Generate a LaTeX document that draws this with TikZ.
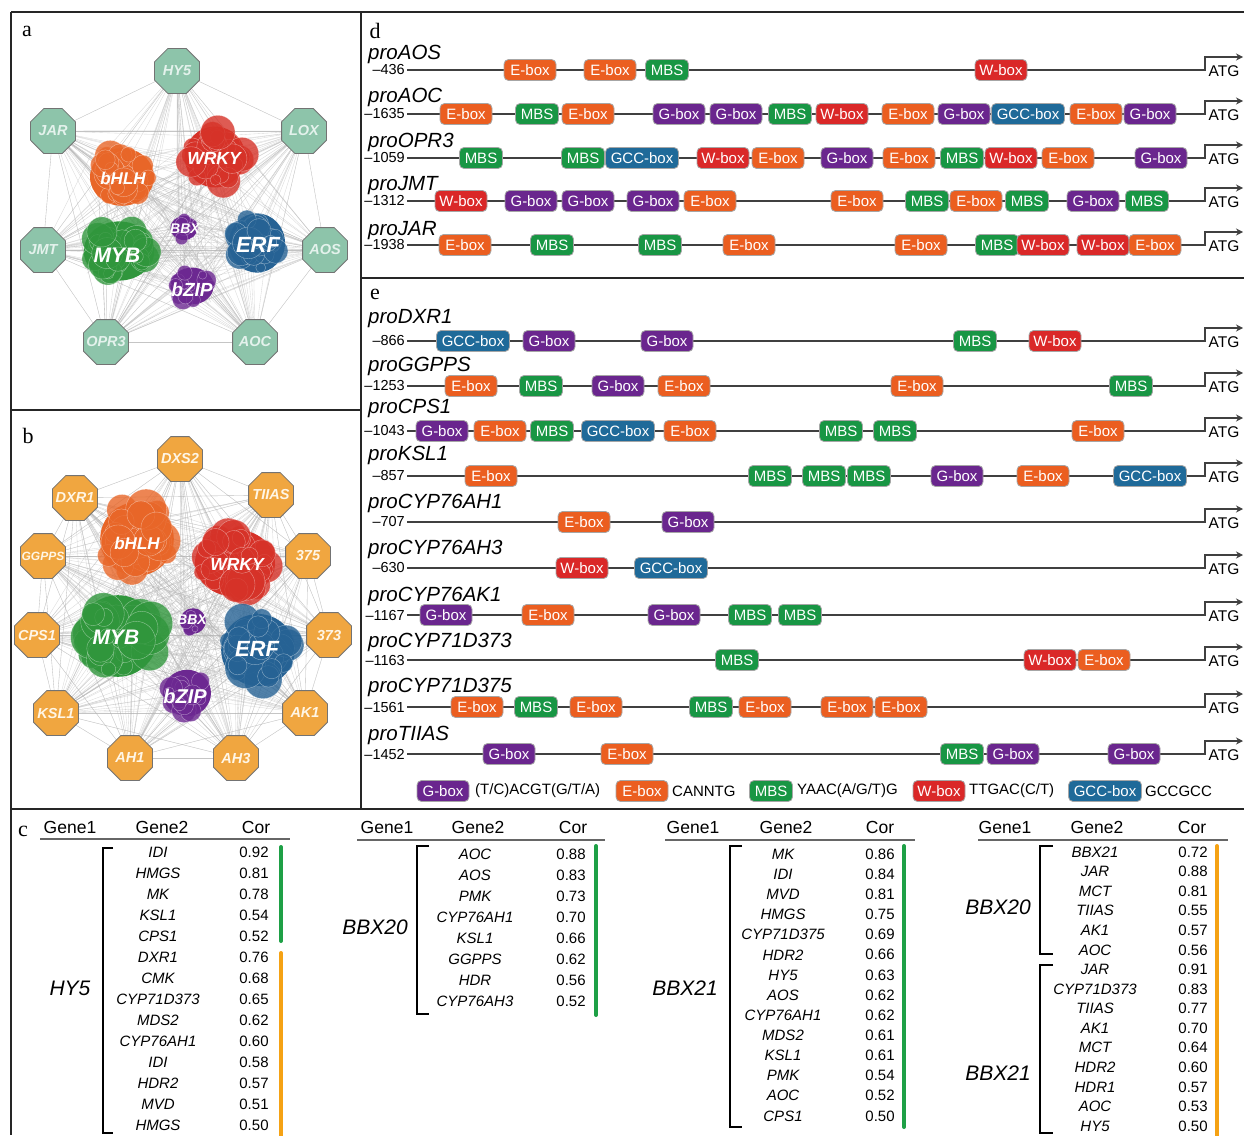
\documentclass[tikz,border=0pt]{standalone}
\usepackage{fontspec}
\setmainfont{Liberation Serif}
\newfontfamily\arial{Liberation Sans}
\usetikzlibrary{shapes.geometric,arrows.meta,calc}
\pgfdeclarelayer{hairs}
\pgfsetlayers{hairs,main}
\definecolor{cE}{RGB}{235,94,32}
\definecolor{cM}{RGB}{24,150,68}
\definecolor{cG}{RGB}{106,38,142}
\definecolor{cW}{RGB}{218,40,40}
\definecolor{cC}{RGB}{31,106,153}
\definecolor{octT}{RGB}{141,196,170}
\definecolor{octO}{RGB}{240,166,64}
\definecolor{octTxtA}{RGB}{228,242,236}
\definecolor{octTxtB}{RGB}{255,246,230}
\definecolor{clO}{RGB}{232,102,40}
\definecolor{clR}{RGB}{214,50,40}
\definecolor{clG}{RGB}{48,150,60}
\definecolor{clB}{RGB}{38,98,148}
\definecolor{clP}{RGB}{108,40,145}
\definecolor{barG}{RGB}{30,160,70}
\definecolor{barO}{RGB}{245,162,20}
\newcounter{bx}
\newcommand\cf[1]{\arial\bfseries\itshape\fontsize{#1}{#1}\selectfont}
\newcommand\bxE[1]{\stepcounter{bx}\node[ebx] (bx\thebx) at (#1,\rowy) {E-box};}
\newcommand\bxG[1]{\stepcounter{bx}\node[gbx] (bx\thebx) at (#1,\rowy) {G-box};}
\newcommand\bxW[1]{\stepcounter{bx}\node[wbx] (bx\thebx) at (#1,\rowy) {W-box};}
\newcommand\bxM[1]{\stepcounter{bx}\node[mbx] (bx\thebx) at (#1,\rowy) {MBS};}
\newcommand\bxC[1]{\stepcounter{bx}\node[cbx] (bx\thebx) at (#1,\rowy) {GCC-box};}
\newcommand\prow[5]{%
 \def\rowy{#4}%
 \node[pname] (nm#1) at (368,#5) {pro#2};
 \node[pnum] (nu#1) at (405,#4) {–#3};
 \coordinate (ts#1) at (1205,#4);
 \coordinate (tp#1) at (1243,#4-13);
 \draw[dna,arr] ([xshift=2pt]nu#1.east) -- (ts#1) |- (tp#1);
 \node[atg] (atg#1) at (1224,#4+1.5) {ATG};
}
\newcommand\blob[7]{%
 \coordinate (#1) at (#2,#3);
 \pgfmathsetmacro\ea{#4*0.8}\pgfmathsetmacro\eb{#5*0.8}%
 \fill[#6] (#1) ellipse (\ea pt and \eb pt);
 \foreach \k in {1,...,#7}{%
   \pgfmathsetmacro\ang{rnd*360}%
   \pgfmathsetmacro\dd{0.72*sqrt(rnd)}%
   \pgfmathsetmacro\rr{min(#4,#5)*(0.14+0.32*rnd)}%
   \filldraw[fill=#6, fill opacity=0.8, draw=white, draw opacity=0.45, line width=0.4pt] ({#2+#4*\dd*cos(\ang)},{#3+#5*\dd*sin(\ang)}) circle (\rr pt);
 }%
}
\begin{document}
\begin{tikzpicture}[x=1pt,y=-1pt,
 frame/.style={draw=black!85, line width=2pt},
 dna/.style={draw=black!75, line width=1.3pt},
 arr/.style={-{Stealth[length=7pt,width=7pt]}},
 tfbase/.style={rounded corners=4.5pt, minimum height=21pt, inner sep=0pt, text=white, draw=black!35, line width=0.8pt, font=\arial\fontsize{15}{15}\selectfont},
 ebx/.style={tfbase, fill=cE, minimum width=52pt},
 gbx/.style={tfbase, fill=cG, minimum width=52pt},
 wbx/.style={tfbase, fill=cW, minimum width=52pt},
 mbx/.style={tfbase, fill=cM, minimum width=43pt},
 cbx/.style={tfbase, fill=cC, minimum width=73pt},
 pname/.style={font=\arial\itshape\fontsize{20.5}{20}\selectfont, inner sep=0pt, anchor=base west},
 pnum/.style={font=\arial\fontsize{14.5}{15}\selectfont, inner sep=0pt, anchor=east},
 atg/.style={font=\arial\fontsize{15.5}{16}\selectfont, inner sep=0pt},
 leg/.style={font=\arial\fontsize{15}{16}\selectfont, inner sep=0pt, anchor=west},
 plet/.style={font=\fontsize{22}{22}\selectfont, inner sep=0pt},
 octa/.style={regular polygon, regular polygon sides=8, minimum size=48.5pt, inner sep=0pt, draw=black!55, line width=0.8pt},
 octlA/.style={font=\cf{14.5}, text=octTxtA, inner sep=0pt},
 octlB/.style={font=\cf{14.5}, text=octTxtB, inner sep=0pt},
 clt/.style={text=white, inner sep=0pt},
 hair/.style={draw=black!30, line width=0.35pt, opacity=0.5},
 hdr/.style={font=\arial\fontsize{17.5}{18}\selectfont, inner sep=0pt},
 gtwo/.style={font=\arial\itshape\fontsize{15}{15}\selectfont, inner sep=0pt},
 cor/.style={font=\arial\fontsize{15}{15}\selectfont, inner sep=0pt},
 gone/.style={font=\arial\itshape\fontsize{21}{21}\selectfont, inner sep=0pt},
 brk/.style={draw=black, line width=1.8pt},
 rule/.style={draw=black!60, line width=1.5pt},
 barg/.style={draw=barG, line width=4pt, line cap=round},
 baro/.style={draw=barO, line width=4pt, line cap=round}
]
\useasboundingbox (0,0) rectangle (1244,1135);
\pgfmathsetseed{11}
% ---------- frames ----------
\draw[frame] (11,12) -- (1244,12);
\draw[frame] (11,12) -- (11,1135);
\draw[frame] (11,410) -- (361,410);
\draw[frame] (361,12) -- (361,809);
\draw[frame] (361,278) -- (1244,278);
\draw[frame] (11,809) -- (1244,809);
% ---------- panel letters ----------
\node[plet] (la) at (27,31) {a};
\node[plet] (lb) at (28,436) {b};
\node[plet] (lc) at (23,831) {c};
\node[plet] (ld) at (375,31) {d};
\node[plet] (le) at (375,294) {e};
% ---------- panel a ----------
\blob{ca1}{122}{177}{40}{36}{clO}{30}
\blob{ca2}{215}{157}{38}{38}{clR}{30}
\blob{ca3}{119}{251}{44}{37}{clG}{32}
\blob{ca4}{257}{243}{35}{37}{clB}{30}
\blob{ca5}{184}{228}{17}{15}{clP}{7}
\blob{ca6}{192}{286}{27}{23}{clP}{14}
\node[clt, font=\cf{17}] (tabhlh) at (123,178) {bHLH};
\node[clt, font=\cf{17.5}] (tawrky) at (214,158) {WRKY};
\node[clt, font=\cf{21}] (tamyb) at (117,255) {MYB};
\node[clt, font=\cf{22}] (taerf) at (258,245) {ERF};
\node[clt, font=\cf{14}] (tabbx) at (185,229) {BBX};
\node[clt, font=\cf{19}] (tabzip) at (192,290) {bZIP};
\foreach \n/\x/\y in {HY5/177/71, JAR/53/131, LOX/304/131, JMT/43/250, AOS/325/250, OPR3/106/342, AOC/255/342}{
  \node[octa, fill=octT, label={[octlA]center:\n}] (a\n) at (\x,\y) {};
}
% ---------- panel b ----------
\blob{cb1}{137}{539}{46}{46}{clO}{34}
\blob{cb2}{235}{563}{50}{42}{clR}{34}
\blob{cb3}{118}{636}{50}{51}{clG}{36}
\blob{cb4}{258}{650}{46}{45}{clB}{32}
\blob{cb5}{193}{621}{16}{16}{clP}{6}
\blob{cb6}{187}{693}{30}{29}{clP}{14}
\node[clt, font=\cf{17}] (tbbhlh) at (137,543) {bHLH};
\node[clt, font=\cf{17.5}] (tbwrky) at (237,564) {WRKY};
\node[clt, font=\cf{21}] (tbmyb) at (116,637) {MYB};
\node[clt, font=\cf{22}] (tberf) at (257,649) {ERF};
\node[clt, font=\cf{14}] (tbbbx) at (192,620) {BBX};
\node[clt, font=\cf{20}] (tbbzip) at (185,696) {bZIP};
\foreach \n/\x/\y in {DXS2/180/459, DXR1/75/498, TIIAS/271/495, 375/308/556, CPS1/37/635, 373/329/635, KSL1/56/713, AK1/305/713, AH1/130/758, AH3/236/758}{
  \node[octa, fill=octO, label={[octlB]center:\n}] (b\n) at (\x,\y) {};
}
\node[octa, fill=octO, label={[octlB, font=\cf{12}]center:GGPPS}] (bGGPPS) at (43,556) {};
% ---------- hairball edges ----------
\begin{pgfonlayer}{hairs}
\foreach \o in {aHY5,aJAR,aLOX,aJMT,aAOS,aOPR3,aAOC}{
  \foreach \c/\qx/\qy in {ca1/30/26,ca2/28/28,ca3/33/28,ca4/26/28,ca5/10/9,ca6/18/15}{
    \foreach \k in {1,...,6}{
      \draw[hair] (\o.center) -- ($(\c)+(rand*\qx,rand*\qy)$);
    }
  }
  \foreach \p in {aHY5,aJAR,aLOX,aJMT,aAOS,aOPR3,aAOC}{
    \draw[hair] (\o.center) -- (\p.center);
  }
}
\foreach \c in {ca1,ca2,ca3,ca4,ca5,ca6}{
  \foreach \d in {ca1,ca2,ca3,ca4,ca5,ca6}{
    \foreach \k in {1,2,3}{
      \draw[hair] ($(\c)+(rand*20,rand*20)$) -- ($(\d)+(rand*20,rand*20)$);
    }
  }
}
\foreach \o in {bDXS2,bDXR1,bTIIAS,bGGPPS,b375,bCPS1,b373,bKSL1,bAK1,bAH1,bAH3}{
  \foreach \c/\qx/\qy in {cb1/34/34,cb2/38/32,cb3/38/38,cb4/34/34,cb5/10/10,cb6/20/20}{
    \foreach \k in {1,...,5}{
      \draw[hair] (\o.center) -- ($(\c)+(rand*\qx,rand*\qy)$);
    }
  }
  \foreach \p in {bDXS2,bDXR1,bTIIAS,bGGPPS,b375,bCPS1,b373,bKSL1,bAK1,bAH1,bAH3}{
    \draw[hair] (\o.center) -- (\p.center);
  }
}
\foreach \c in {cb1,cb2,cb3,cb4,cb5,cb6}{
  \foreach \d in {cb1,cb2,cb3,cb4,cb5,cb6}{
    \foreach \k in {1,2,3}{
      \draw[hair] ($(\c)+(rand*25,rand*25)$) -- ($(\d)+(rand*25,rand*25)$);
    }
  }
}
\end{pgfonlayer}
% ---------- panel d ----------
\prow{AOS}{AOS}{436}{70}{59}
\bxE{530}\bxE{610}\bxM{667}\bxW{1001}
\prow{AOC}{AOC}{1635}{114}{102}
\bxE{466}\bxM{537}\bxE{588}\bxG{679}\bxG{736}\bxM{790}\bxW{842}\bxE{908}\bxG{964}\bxC{1028}\bxE{1096}\bxG{1150}
\prow{OPR}{OPR3}{1059}{158}{147}
\bxM{481}\bxM{583}\bxC{642}\bxW{723}\bxE{778}\bxG{847}\bxE{909}\bxM{962}\bxW{1011}\bxE{1068}\bxG{1161}
\prow{JMT}{JMT}{1312}{201}{190}
\bxW{461}\bxG{531}\bxG{588}\bxG{653}\bxE{710}\bxE{857}\bxM{927}\bxE{976}\bxM{1027}\bxG{1093}\bxM{1147}
\prow{JAR}{JAR}{1938}{245}{235}
\bxE{465}\bxM{552}\bxM{660}\bxE{749}\bxE{921}\bxM{997}\bxW{1043}\bxW{1103}\bxE{1155}
% ---------- panel e ----------
\prow{DXR}{DXR1}{866}{341}{323}
\bxC{473}\bxG{549}\bxG{667}\bxM{975}\bxW{1055}
\prow{GGP}{GGPPS}{1253}{386}{371}
\bxE{471}\bxM{541}\bxG{618}\bxE{684}\bxE{917}\bxM{1131}
\prow{CPS}{CPS1}{1043}{431}{413}
\bxG{442}\bxE{500}\bxM{552}\bxC{618}\bxE{690}\bxM{841}\bxM{895}\bxE{1098}
\prow{KSL}{KSL1}{857}{476}{460}
\bxE{491}\bxM{770}\bxM{824}\bxM{869}\bxG{957}\bxE{1043}\bxC{1150}
\prow{AHa}{CYP76AH1}{707}{522}{508}
\bxE{584}\bxG{688}
\prow{AHb}{CYP76AH3}{630}{568}{554}
\bxW{582}\bxC{671}
\prow{AKa}{CYP76AK1}{1167}{615}{601}
\bxG{446}\bxE{548}\bxG{674}\bxM{750}\bxM{800}
\prow{DTa}{CYP71D373}{1163}{660}{647}
\bxM{737}\bxW{1050}\bxE{1104}
\prow{DTb}{CYP71D375}{1561}{707}{692}
\bxE{477}\bxM{536}\bxE{596}\bxM{711}\bxE{765}\bxE{847}\bxE{901}
\prow{TIA}{TIIAS}{1452}{754}{740}
\bxG{509}\bxE{627}\bxM{962}\bxG{1013}\bxG{1134}
% legend
\def\rowy{791}
\bxG{443}\node[leg] (lg1) at (475,791) {(T/C)ACGT(G/T/A)};
\bxE{642}\node[leg] (lg2) at (672,791) {CANNTG};
\bxM{771}\node[leg] (lg3) at (797,791) {YAAC(A/G/T)G};
\bxW{939}\node[leg] (lg4) at (969,791) {TTGAC(C/T)};
\bxC{1105}\node[leg] (lg5) at (1145,791) {GCCGCC};
% ---------- panel c ----------
% table 1
\node[hdr] (h1a) at (70,827) {Gene1};
\node[hdr] (h1b) at (162,827) {Gene2};
\node[hdr] (h1c) at (256,827) {Cor};
\draw[rule] (40,839) -- (290,839);
\draw[brk] (113,848) -- (103,848) -- (103,1133) -- (113,1133);
\node[gone] (g1) at (70,988) {HY5};
\foreach \g/\v [count=\i from 0] in {IDI/0.92, HMGS/0.81, MK/0.78, KSL1/0.54, CPS1/0.52, DXR1/0.76, CMK/0.68, CYP71D373/0.65, MDS2/0.62, CYP76AH1/0.60, IDI/0.58, HDR2/0.57, MVD/0.51, HMGS/0.50}{
  \node[gtwo] (ta\i) at (158,852+\i*21) {\g};
  \node[cor] (va\i) at (254,852+\i*21) {\v};
}
\draw[barg] (281,847) -- (281,941);
\draw[baro] (281,953) -- (281,1140);
% table 2
\node[hdr] (h2a) at (387,827) {Gene1};
\node[hdr] (h2b) at (478,827) {Gene2};
\node[hdr] (h2c) at (573,827) {Cor};
\draw[rule] (357,840) -- (605,840);
\draw[brk] (429,846) -- (417,846) -- (417,1014) -- (429,1014);
\node[gone] (g2) at (375,927) {BBX20};
\foreach \g/\v [count=\i from 0] in {AOC/0.88, AOS/0.83, PMK/0.73, CYP76AH1/0.70, KSL1/0.66, GGPPS/0.62, HDR/0.56, CYP76AH3/0.52}{
  \node[gtwo] (tb\i) at (475,854+\i*21.1) {\g};
  \node[cor] (vb\i) at (571,854+\i*21.1) {\v};
}
\draw[barg] (596,846) -- (596,1015);
% table 3
\node[hdr] (h3a) at (693,827) {Gene1};
\node[hdr] (h3b) at (786,827) {Gene2};
\node[hdr] (h3c) at (880,827) {Cor};
\draw[rule] (665,840) -- (915,840);
\draw[brk] (742,846) -- (730,846) -- (730,1127) -- (742,1127);
\node[gone] (g3) at (685,988) {BBX21};
\foreach \g/\v [count=\i from 0] in {MK/0.86, IDI/0.84, MVD/0.81, HMGS/0.75, CYP71D375/0.69, HDR2/0.66, HY5/0.63, AOS/0.62, CYP76AH1/0.62, MDS2/0.61, KSL1/0.61, PMK/0.54, AOC/0.52, CPS1/0.50}{
  \node[gtwo] (tc\i) at (783,854+\i*20.15) {\g};
  \node[cor] (vc\i) at (880,854+\i*20.15) {\v};
}
\draw[barg] (904,846) -- (904,1127);
% table 4
\node[hdr] (h4a) at (1005,827) {Gene1};
\node[hdr] (h4b) at (1097,827) {Gene2};
\node[hdr] (h4c) at (1192,827) {Cor};
\draw[rule] (978,840) -- (1228,840);
\draw[brk] (1053,846) -- (1040,846) -- (1040,954) -- (1053,954);
\draw[brk] (1053,965) -- (1040,965) -- (1040,1133) -- (1053,1133);
\node[gone] (g4) at (998,907) {BBX20};
\node[gone] (g5) at (998,1073) {BBX21};
\foreach \g/\v [count=\i from 0] in {BBX21/0.72, JAR/0.88, MCT/0.81, TIIAS/0.55, AK1/0.57, AOC/0.56, JAR/0.91, CYP71D373/0.83, TIIAS/0.77, AK1/0.70, MCT/0.64, HDR2/0.60, HDR1/0.57, AOC/0.53, HY5/0.50}{
  \node[gtwo] (td\i) at (1095,852+\i*19.57) {\g};
  \node[cor] (vd\i) at (1193,852+\i*19.57) {\v};
}
\draw[baro] (1217,846) -- (1217,1140);
\end{tikzpicture}
\end{document}
